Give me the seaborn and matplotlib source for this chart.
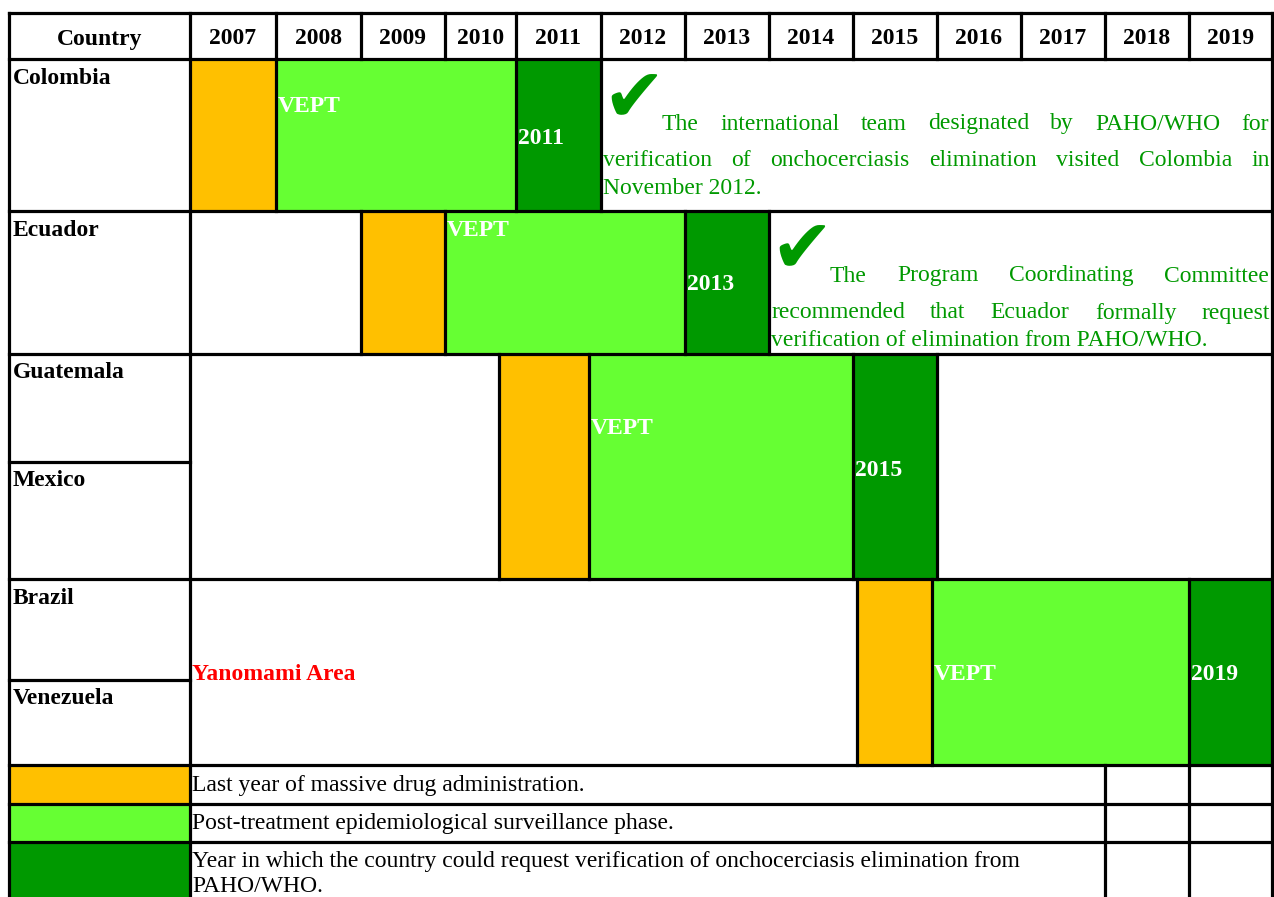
import matplotlib
matplotlib.use("Agg")

import matplotlib.pyplot as plt
import seaborn as sns

# data
years = list(range(2007, 2020))
group_countries = [["Colombia"], ["Ecuador"], ["Guatemala", "Mexico"], ["Brazil", "Venezuela"]]
mda_year = [2007, 2009, 2011, 2015]        # last year of mass drug administration
verify_year = [2011, 2013, 2015, 2019]     # year verification could be requested
vept_label = "VEPT"
area_note = {3: "Yanomami Area"}
notes = {
    0: ["The international team designated by PAHO/WHO for",
        "verification of onchocerciasis elimination visited Colombia in",
        "November 2012."],
    1: ["The Program Coordinating Committee",
        "recommended that Ecuador formally request",
        "verification of elimination from PAHO/WHO."],
}
legend_labels = [
    ["Last year of massive drug administration."],
    ["Post-treatment epidemiological surveillance phase."],
    ["Year in which the country could request verification of onchocerciasis elimination from",
     "PAHO/WHO."],
]

# layout (pixels)
W, H = 1274, 897
L, R, TOP = 9, 1272, 13
col_edges = [190, 276, 361, 445, 516, 601, 685, 769, 853, 937, 1021, 1105, 1189, 1272]
header_bot = 59
group_top = [59, 211, 354, 579]
group_bot = [211, 354, 579, 765]
sub_split = {2: 462, 3: 680}
edge_fix = {2: {2011: 499, 2012: 589}, 3: {2015: 857, 2016: 932}}
legend_rows = [765, 804, 842, 897]

ORANGE = "#FFC000"
LIGHT = "#66FF33"
DARK = "#009900"
TXT_GREEN = "#009900"
LW = 2.3

sns.set_theme(style="white")
plt.rcParams["font.family"] = ["Liberation Serif", "DejaVu Sans"]
plt.rcParams["text.color"] = "black"

fig = plt.figure(figsize=(W / 100, H / 100), dpi=100)
ax = fig.add_axes([0, 0, 1, 1])
ax.set_xlim(0, W)
ax.set_ylim(H, 0)
ax.axis("off")
renderer = fig.canvas.get_renderer()


def xpos(g, yr):
    return edge_fix.get(g, {}).get(yr, col_edges[yr - years[0]])


def hline(y, x0=L, x1=R):
    ax.plot([x0, x1], [y, y], color="black", lw=LW, solid_capstyle="projecting")


def vline(x, y0, y1):
    ax.plot([x, x], [y0, y1], color="black", lw=LW, solid_capstyle="projecting")


def justify(words_line, x0, x1, y, **kw):
    words = words_line.split()
    objs = [ax.text(0, y, w, va="center", ha="left", **kw) for w in words]
    widths = [o.get_window_extent(renderer).width for o in objs]
    gap = (x1 - x0 - sum(widths)) / max(len(words) - 1, 1)
    x = x0
    for o, w in zip(objs, widths):
        o.set_x(x)
        x += w + gap


body = dict(fontsize=17)
bold = dict(fontsize=17, fontweight="bold")

# header
ax.text((L + col_edges[0]) / 2, 39, "Country", ha="center", va="center", **bold)
for i, yr in enumerate(years):
    ax.text((col_edges[i] + col_edges[i + 1]) / 2, 39, str(yr), ha="center", va="center", **bold)

# phase blocks
for g in range(len(group_countries)):
    top, bot = group_top[g], group_bot[g]
    m0, m1 = xpos(g, mda_year[g]), xpos(g, mda_year[g] + 1)
    v1 = xpos(g, verify_year[g])
    d1 = xpos(g, verify_year[g] + 1) if verify_year[g] < years[-1] else col_edges[-1]
    ax.bar(m0, bot - top, width=m1 - m0, bottom=top, align="edge", color=ORANGE, lw=0)
    ax.bar(m1, bot - top, width=v1 - m1, bottom=top, align="edge", color=LIGHT, lw=0)
    ax.bar(v1, bot - top, width=d1 - v1, bottom=top, align="edge", color=DARK, lw=0)
    for x in (m0, m1, v1, d1):
        if col_edges[0] < x < R:
            vline(x, top, bot)

    # labels inside blocks
    if g < 2:
        vept_y = [106, 230][g]
        yr_y = [138, 285][g]
    else:
        vept_y = [428, 675][g - 2]
        yr_y = [470, 674][g - 2]
    ax.text(m1 + 2, vept_y, vept_label, color="white", va="center", **bold)
    ax.text(v1 + 2, yr_y, str(verify_year[g]), color="white", va="center", **bold)

    # country names
    if g in sub_split:
        tops = [top, sub_split[g]]
    else:
        tops = [top]
    for name, t in zip(group_countries[g], tops):
        ax.text(L + 4, t + 19, name, va="center", ha="left", **bold)

ax.text(col_edges[0] + 2, 675, area_note[3], color="red", va="center", **bold)

# notes with check marks
note_cfg = {0: dict(x=xpos(0, 2012), first=662, ys=[124, 161, 188], ck=(602, 121)),
            1: dict(x=xpos(1, 2014), first=830, ys=[276, 313, 340], ck=(770, 272))}
for g, lines in notes.items():
    cfg = note_cfg[g]
    ax.text(cfg["ck"][0], cfg["ck"][1], "\u2714", color=TXT_GREEN, fontsize=54,
            family=["DejaVu Sans"], ha="left", va="baseline")
    justify(lines[0], cfg["first"], R - 3, cfg["ys"][0], color=TXT_GREEN, **body)
    justify(lines[1], cfg["x"] + 2, R - 2, cfg["ys"][1], color=TXT_GREEN, **body)
    ax.text(cfg["x"] + 2, cfg["ys"][2], lines[2], color=TXT_GREEN, va="center", **body)

# legend
for i, (col, lab) in enumerate(zip([ORANGE, LIGHT, DARK], legend_labels)):
    y0, y1 = legend_rows[i], legend_rows[i + 1]
    ax.bar(L, y1 - y0, width=col_edges[0] - L, bottom=y0, align="edge", color=col, lw=0)
    if len(lab) == 1:
        ax.text(col_edges[0] + 2, (y0 + y1) / 2 + 1, lab[0], va="center", **body)
    else:
        ax.text(col_edges[0] + 2, 861, lab[0], va="center", **body)
        ax.text(col_edges[0] + 2, 886, lab[1], va="center", **body)

# table rules
for y in [TOP, header_bot] + group_bot[:-1] + legend_rows[:-1]:
    hline(y)
for g, y in sub_split.items():
    hline(y, L, col_edges[0])
vline(L, TOP, H)
vline(R, TOP, H)
vline(col_edges[0], TOP, H)
for x in col_edges[1:-1]:
    vline(x, TOP, header_bot)
for x in (col_edges[-3], col_edges[-2]):
    vline(x, legend_rows[0], H)

fig.savefig("out.png", dpi=100)
